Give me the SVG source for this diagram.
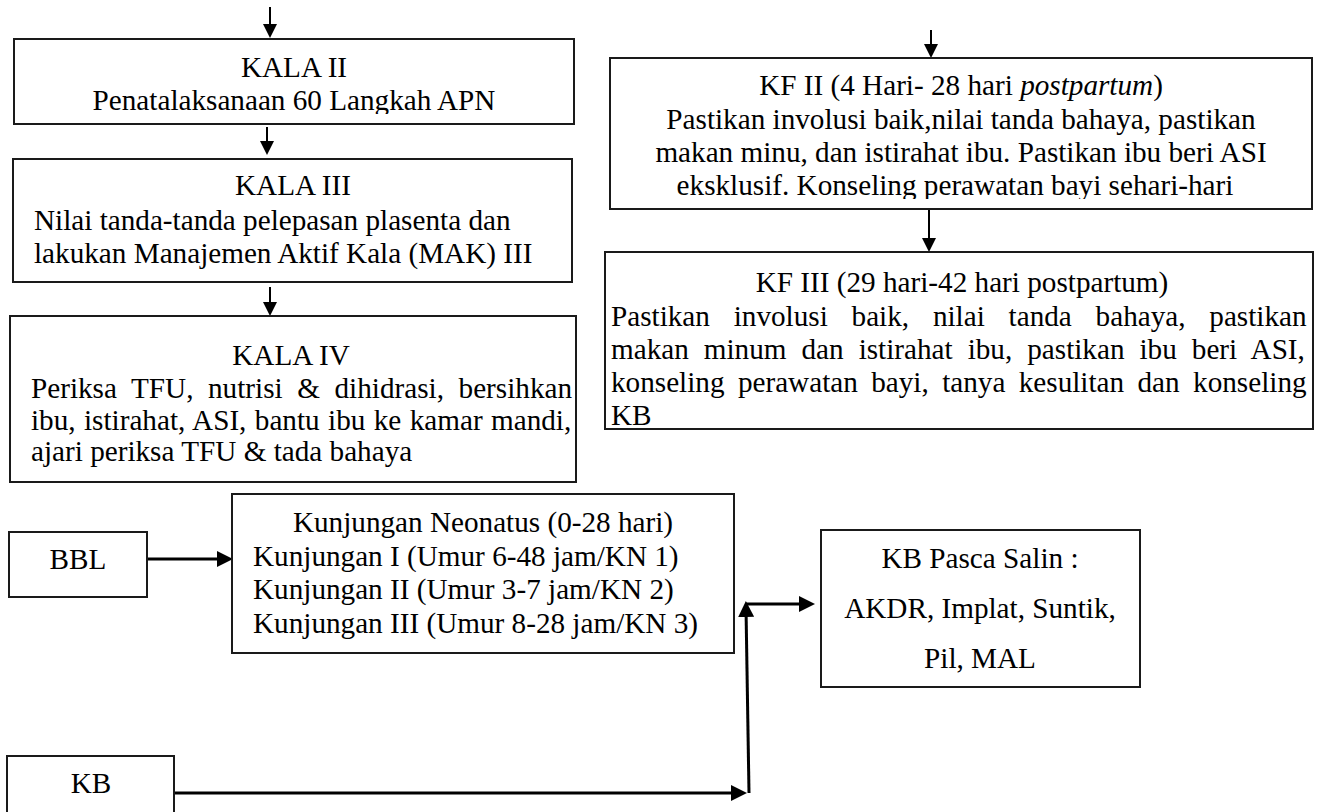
<svg xmlns="http://www.w3.org/2000/svg" width="1318" height="812" viewBox="0 0 1318 812">
<style>
  .box { fill: #ffffff; stroke: #1a1a1a; stroke-width: 2; }
  .t { font-family: "Liberation Serif", "Times New Roman", serif; font-size: 29.2px; fill: #000; }
  .c { text-anchor: middle; }
  .ln { stroke: #000; stroke-width: 2; fill: none; }
  .lb { stroke: #000; stroke-width: 3; fill: none; }
</style>
<defs>
  <marker id="ah" markerUnits="userSpaceOnUse" markerWidth="14" markerHeight="14" refX="8" refY="7" orient="auto">
    <path d="M0,0 L14,7 L0,14 z" fill="#000"/>
  </marker>
  <marker id="ahb" markerUnits="userSpaceOnUse" markerWidth="16" markerHeight="16" refX="9" refY="8" orient="auto">
    <path d="M0,0 L16,8 L0,16 z" fill="#000"/>
  </marker>
  <clipPath id="clipK2"><rect x="14" y="39" width="560" height="75"/></clipPath>
  <clipPath id="clipKF2"><rect x="610" y="58" width="702" height="141"/></clipPath>
</defs>
<rect width="1318" height="812" fill="#ffffff"/>

<g id="connectors">
  <line class="ln" x1="270" y1="7" x2="270" y2="32" marker-end="url(#ah)"/>
  <line class="ln" x1="267" y1="127" x2="267" y2="149" marker-end="url(#ah)"/>
  <line class="ln" x1="270" y1="287" x2="270" y2="310" marker-end="url(#ah)"/>
  <line class="ln" x1="931" y1="30" x2="931" y2="52" marker-end="url(#ah)"/>
  <line class="ln" x1="929" y1="209" x2="929" y2="246" marker-end="url(#ah)"/>
  <line class="lb" x1="147" y1="559" x2="226" y2="559" marker-end="url(#ahb)"/>
  <line class="lb" x1="174" y1="793" x2="740" y2="793" marker-end="url(#ahb)"/>
  <line class="lb" x1="749" y1="793" x2="746" y2="608" marker-end="url(#ahb)"/>
  <line class="lb" x1="746" y1="604" x2="808" y2="604" marker-end="url(#ahb)"/>
</g>

<g id="kala2">
  <rect class="box" x="14" y="39" width="560" height="85"/>
  <text class="t c" x="294" y="77">KALA II</text>
  <text class="t c" x="294" y="110" clip-path="url(#clipK2)">Penatalaksanaan 60 Langkah APN</text>
</g>

<g id="kala3">
  <rect class="box" x="13" y="159" width="559" height="123"/>
  <text class="t c" x="293" y="195">KALA III</text>
  <text class="t" x="34" y="230">Nilai tanda-tanda pelepasan plasenta dan</text>
  <text class="t" x="34" y="263">lakukan Manajemen Aktif Kala (MAK) III</text>
</g>

<g id="kala4">
  <rect class="box" x="10" y="316" width="566" height="166"/>
  <text class="t c" x="291" y="365">KALA IV</text>
  <text class="t" x="31" y="398" word-spacing="7.3">Periksa TFU, nutrisi &amp; dihidrasi, bersihkan</text>
  <text class="t" x="31" y="430" word-spacing="1.1">ibu, istirahat, ASI, bantu ibu ke kamar mandi,</text>
  <text class="t" x="31" y="461">ajari periksa TFU &amp; tada bahaya</text>
</g>

<g id="kf2">
  <rect class="box" x="610" y="58" width="702" height="151"/>
  <text class="t c" x="961" y="95">KF II (4 Hari- 28 hari <tspan font-style="italic">postpartum</tspan>)</text>
  <text class="t c" x="961" y="129">Pastikan involusi baik,nilai tanda bahaya, pastikan</text>
  <text class="t c" x="961" y="162">makan minu, dan istirahat ibu. Pastikan ibu beri ASI</text>
  <text class="t c" x="955" y="195" clip-path="url(#clipKF2)">eksklusif. Konseling perawatan bayi sehari-hari</text>
</g>

<g id="kf3">
  <rect class="box" x="605" y="252" width="708" height="177"/>
  <text class="t c" x="962" y="292">KF III (29 hari-42 hari postpartum)</text>
  <text class="t" x="611" y="326" word-spacing="16.5">Pastikan involusi baik, nilai tanda bahaya, pastikan</text>
  <text class="t" x="611" y="359" word-spacing="7.7">makan minum dan istirahat ibu, pastikan ibu beri ASI,</text>
  <text class="t" x="611" y="392" word-spacing="6.1">konseling perawatan bayi, tanya kesulitan dan konseling</text>
  <text class="t" x="611" y="425">KB</text>
</g>

<g id="bbl">
  <rect class="box" x="9" y="532" width="138" height="65"/>
  <text class="t c" x="78" y="569">BBL</text>
</g>

<g id="kunjungan">
  <rect class="box" x="232" y="494" width="502" height="159"/>
  <text class="t c" x="483" y="532">Kunjungan Neonatus (0-28 hari)</text>
  <text class="t" x="253" y="566">Kunjungan I (Umur 6-48 jam/KN 1)</text>
  <text class="t" x="253" y="599">Kunjungan II (Umur 3-7 jam/KN 2)</text>
  <text class="t" x="253" y="633">Kunjungan III (Umur 8-28 jam/KN 3)</text>
</g>

<g id="kbpasca">
  <rect class="box" x="821" y="530" width="319" height="157"/>
  <text class="t c" x="980" y="568">KB Pasca Salin :</text>
  <text class="t c" x="980" y="618">AKDR, Implat, Suntik,</text>
  <text class="t c" x="980" y="668">Pil, MAL</text>
</g>

<g id="kb">
  <rect class="box" x="7" y="756" width="167" height="70"/>
  <text class="t c" x="91" y="793">KB</text>
</g>
</svg>
